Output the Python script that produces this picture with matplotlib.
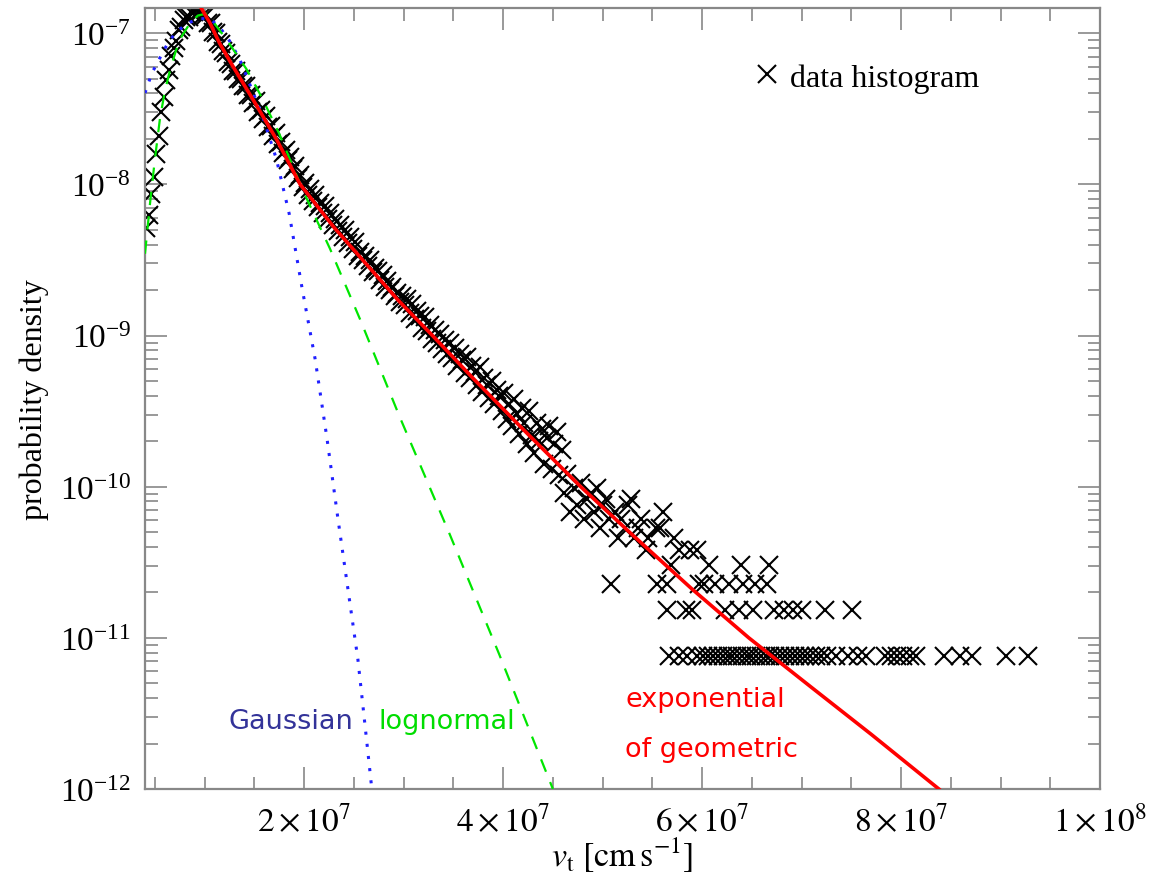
import numpy as np
import matplotlib
matplotlib.use('Agg')
import matplotlib.pyplot as plt
from matplotlib.ticker import MultipleLocator, FuncFormatter, NullFormatter, LogLocator

# velocities are in units of 1e7 cm/s
VSCALE = 1e7

# dense part of the histogram: regular bins, log10 of the density
hist_v0 = 0.4125
hist_dv = 0.025
hist_logp = [
    # 0.41 - 0.79
    -8.29, -8.20, -8.06, -7.95, -7.80, -7.68, -7.52, -7.42,
    -7.31, -7.24, -7.15, -7.10, -7.05, -6.98, -6.96, -6.91,
    # 0.81 - 1.49
    -6.89, -6.89, -6.86, -6.86, -6.84, -6.86, -6.85, -6.88,
    -6.88, -6.93, -6.93, -6.99, -7.00, -7.06, -7.07, -7.12,
    -7.13, -7.19, -7.20, -7.25, -7.25, -7.30, -7.30, -7.35,
    -7.35, -7.41, -7.41, -7.46,
    # 1.51 - 1.99
    -7.45, -7.52, -7.51, -7.57, -7.55, -7.62, -7.61, -7.68,
    -7.66, -7.73, -7.72, -7.79, -7.77, -7.84, -7.82, -7.90,
    -7.88, -7.96, -7.94, -8.02,
    # 2.01 - 2.49
    -7.99, -8.07, -8.03, -8.11, -8.07, -8.15, -8.12, -8.19,
    -8.14, -8.23, -8.19, -8.27, -8.23, -8.31, -8.27, -8.35,
    -8.30, -8.39, -8.35, -8.43,
    # 2.51 - 2.99
    -8.38, -8.47, -8.45, -8.50, -8.47, -8.54, -8.50, -8.58,
    -8.55, -8.57, -8.63, -8.60, -8.68, -8.64, -8.70, -8.68,
    -8.74, -8.72, -8.78, -8.74,
    # 3.01 - 3.49
    -8.80, -8.76, -8.85, -8.79, -8.89, -8.84, -8.87, -8.95,
    -8.88, -8.97, -8.93, -9.02, -8.96, -9.05, -8.99, -9.09,
    -9.03, -9.12, -9.05, -9.15,
    # 3.51 - 3.99
    -9.08, -9.20, -9.12, -9.16, -9.25, -9.14, -9.28, -9.20,
    -9.24, -9.33, -9.21, -9.37, -9.28, -9.33, -9.41, -9.30,
    -9.45, -9.36, -9.40, -9.50,
    # 4.01 - 4.59
    -9.38, -9.55, -9.45, -9.60, -9.42, -9.52, -9.65, -9.48,
    -9.58, -9.72, -9.50, -9.66, -9.78, -9.58, -9.70, -9.62,
    -9.85, -9.68, -9.60, -9.88, -9.72, -9.64, -9.92, -9.76,
]

# sparse tail: bin centre and number of counts in the bin
count_density = 7.6e-12
tail_v = [4.61, 4.64, 4.67, 4.71, 4.74, 4.78, 4.81, 4.84, 4.88, 4.91, 4.94, 4.97,
          5.00, 5.03, 5.06, 5.12, 5.18, 5.22, 5.25, 5.29, 5.36, 5.39, 5.54, 5.58, 5.61,
          # 6 counts
          5.15, 5.32, 5.46, 5.72,
          # 5 counts
          5.44, 5.77, 5.88, 5.95,
          # 4 counts
          5.69, 6.07, 6.39, 6.67,
          # 3 counts
          5.08, 5.55, 5.65, 5.97, 6.02, 6.13, 6.27, 6.41, 6.53, 6.65,
          # 2 counts
          5.65, 5.84, 5.90, 6.23, 6.37, 6.51, 6.72, 6.82, 6.91, 7.00, 7.24, 7.51,
          # 1 count
          5.67, 5.77, 5.85, 5.95, 6.01, 6.06, 6.11, 6.16, 6.21, 6.26, 6.30, 6.35,
          6.40, 6.45, 6.49, 6.54, 6.59, 6.64, 6.68, 6.73, 6.78, 6.83, 6.88, 6.93,
          6.98, 7.03, 7.08, 7.14, 7.20, 7.26, 7.35, 7.47, 7.57, 7.65, 7.84, 7.90,
          7.96, 8.02, 8.09, 8.15, 8.43, 8.59, 8.71, 9.05, 9.28]
tail_n = [12, 16, 9, 13, 10, 14, 8, 11, 12, 9, 13, 7,
          10, 11, 8, 9, 8, 7, 10, 11, 7, 8, 7, 7, 9,
          6, 6, 6, 6,
          5, 5, 5, 5,
          4, 4, 4, 4,
          3, 3, 3, 3, 3, 3, 3, 3, 3, 3,
          2, 2, 2, 2, 2, 2, 2, 2, 2, 2, 2, 2,
          1, 1, 1, 1, 1, 1, 1, 1, 1, 1, 1, 1,
          1, 1, 1, 1, 1, 1, 1, 1, 1, 1, 1, 1,
          1, 1, 1, 1, 1, 1, 1, 1, 1, 1, 1, 1,
          1, 1, 1, 1, 1, 1, 1, 1, 1]

# fitted curves
gauss_v = [0.40, 0.47, 0.53, 0.58, 0.64, 0.70, 0.79, 0.86, 0.95, 1.05, 1.15, 1.25,
           1.35, 1.48, 1.58, 1.72, 1.85, 1.98, 2.11, 2.23, 2.34, 2.44, 2.54, 2.61, 2.68]
gauss_p = [4.03e-8, 5.48e-8, 6.47e-8, 7.55e-8, 8.79e-8, 9.93e-8, 1.12e-7, 1.19e-7,
           1.25e-7, 1.25e-7, 1.10e-7, 8.9e-8, 6.78e-8, 4.16e-8, 2.84e-8, 1.48e-8,
           6.38e-9, 2.04e-9, 7.0e-10, 2.07e-10, 6.1e-11, 2.1e-11, 7.2e-12, 2.7e-12, 1.0e-12]

logn_v = [0.40, 0.45, 0.50, 0.55, 0.60, 0.65, 0.71, 0.77, 0.85, 0.93, 1.01, 1.10,
          1.25, 1.42, 1.58, 1.75, 1.98, 2.26, 2.56, 2.96, 3.46, 3.96, 4.50]
logn_p = [3.48e-9, 7.45e-9, 1.48e-8, 2.72e-8, 4.16e-8, 5.65e-8, 7.66e-8, 9.6e-8,
          1.16e-7, 1.31e-7, 1.35e-7, 1.16e-7, 8.5e-8, 5.8e-8, 3.7e-8, 2.16e-8,
          9.35e-9, 3.75e-9, 1.29e-9, 2.9e-10, 4.9e-11, 7.8e-12, 1.0e-12]

expg_v = [0.97, 1.05, 1.15, 1.28, 1.48, 1.72, 1.96, 2.3, 2.6, 2.95, 3.29, 3.7,
          4.2, 4.78, 5.3, 5.9, 6.47, 7.1, 7.7, 8.38]
expg_p = [1.45e-7, 1.18e-7, 8.6e-8, 6.1e-8, 3.7e-8, 2.0e-8, 1.0e-8, 5.2e-9, 3.1e-9,
          1.7e-9, 1.0e-9, 5.2e-10, 2.4e-10, 1.0e-10, 4.8e-11, 2.1e-11, 1.0e-11,
          4.7e-12, 2.3e-12, 1.0e-12]

plt.rcParams['font.family'] = ['Liberation Serif', 'DejaVu Serif']
plt.rcParams['mathtext.fontset'] = 'stix'

fig = plt.figure(figsize=(11.49, 8.78), dpi=100)
ax = fig.add_axes([0.1262, 0.1002, 0.8312, 0.8895])

# data points
hist_v = hist_v0 + hist_dv * np.arange(len(hist_logp))
data_v = np.concatenate([hist_v, tail_v]) * VSCALE
data_p = np.concatenate([10.0 ** np.array(hist_logp), np.array(tail_n) * count_density])
ax.plot(data_v, data_p, linestyle='none', marker='x', markersize=13,
        markeredgewidth=1.5, color='black', label='data histogram', zorder=2)

ax.plot(np.array(gauss_v) * VSCALE, gauss_p, color='#2020ff', linestyle=(0, (1, 3)),
        linewidth=2.2, zorder=3)
ax.plot(np.array(logn_v) * VSCALE, logn_p, color='#00e600', linestyle=(0, (6, 5)),
        linewidth=1.6, zorder=3)
ax.plot(np.array(expg_v) * VSCALE, expg_p, color='#ff0000', linewidth=2.6, zorder=4)

ax.set_yscale('log')
ax.set_xlim(0.4e7, 1.0e8)
ax.set_ylim(1e-12, 1.47e-7)

def sci_label(x, pos):
    if x <= 0:
        return ''
    e = int(np.floor(np.log10(x) + 1e-9))
    m = x / 10 ** e
    return r'$%d\times10^{%d}$' % (round(m), e)

ax.xaxis.set_major_locator(MultipleLocator(2e7))
ax.xaxis.set_minor_locator(MultipleLocator(5e6))
ax.xaxis.set_major_formatter(FuncFormatter(sci_label))
ax.yaxis.set_major_locator(LogLocator(base=10))
ax.yaxis.set_minor_locator(LogLocator(base=10, subs=np.arange(2, 10)))
ax.yaxis.set_minor_formatter(NullFormatter())

ax.tick_params(which='both', direction='in', top=True, right=True,
               color='#888888', labelsize=24, width=1.2)
ax.tick_params(which='major', length=16)
ax.tick_params(which='minor', length=9)
ax.tick_params(axis='x', pad=11)
ax.tick_params(axis='y', pad=10)
for s in ax.spines.values():
    s.set_color('#888888')
    s.set_linewidth(1.6)

ax.set_xlabel(r'$v_{\mathrm{t}}\ [\mathrm{cm\,s^{-1}}]$', fontsize=24.5, labelpad=-2)
ax.set_ylabel('probability density', fontsize=23, labelpad=8)

ax.legend(loc='upper left', bbox_to_anchor=(0.618, 0.95), frameon=False,
          fontsize=23, handlelength=1.0, handletextpad=0.2, borderpad=0)

ax.text(0.087, 0.087, 'Gaussian', transform=ax.transAxes, color='#333399',
        fontsize=19.5, family='DejaVu Sans', va='center', ha='left')
ax.text(0.244, 0.087, 'lognormal', transform=ax.transAxes, color='#00dd00',
        fontsize=19.5, family='DejaVu Sans', va='center', ha='left')
ax.text(0.503, 0.115, 'exponential', transform=ax.transAxes, color='#ff0000',
        fontsize=19.5, family='DejaVu Sans', va='center', ha='left')
ax.text(0.503, 0.051, 'of geometric', transform=ax.transAxes, color='#ff0000',
        fontsize=19.5, family='DejaVu Sans', va='center', ha='left')

fig.savefig('out.png', dpi=100)
